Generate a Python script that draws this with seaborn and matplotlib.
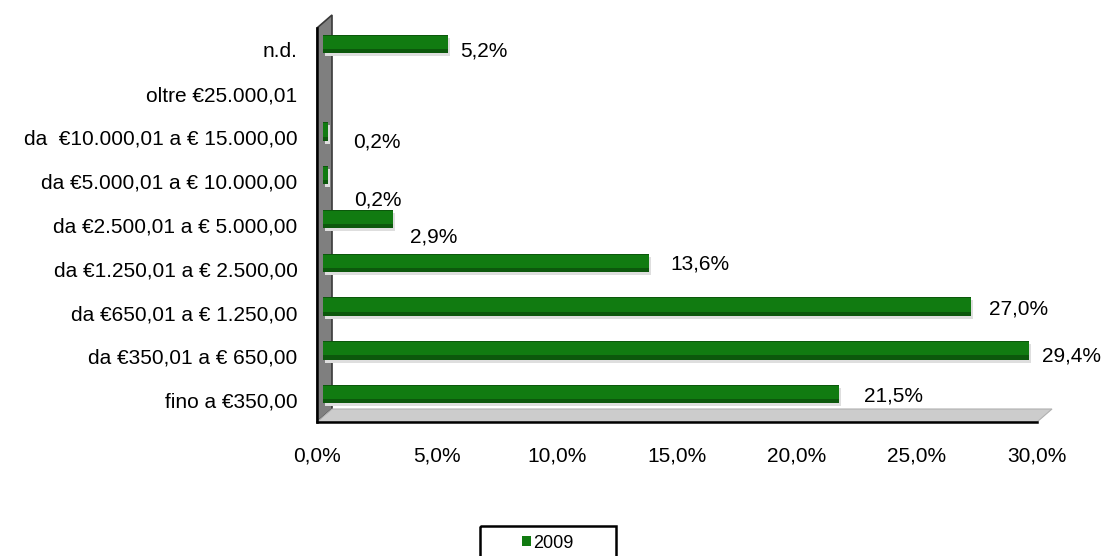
import matplotlib
matplotlib.use('Agg')
import matplotlib.pyplot as plt
import pandas as pd
import seaborn as sns
from matplotlib.patches import Polygon, Rectangle
from matplotlib.transforms import ScaledTranslation, IdentityTransform
from matplotlib.ticker import FixedLocator, FuncFormatter

# data (top to bottom as in the chart)
categories = [
    'n.d.',
    'oltre €25.000,01',
    'da  €10.000,01 a € 15.000,00',
    'da €5.000,01 a € 10.000,00',
    'da €2.500,01 a € 5.000,00',
    'da €1.250,01 a € 2.500,00',
    'da €650,01 a € 1.250,00',
    'da €350,01 a € 650,00',
    'fino a €350,00',
]
values = [5.2, 0.0, 0.2, 0.2, 2.9, 13.6, 27.0, 29.4, 21.5]
series = '2009'
x_ticks = [0, 5, 10, 15, 20, 25, 30]

# small pixel nudges for the value labels (Excel places them a bit irregularly)
label_nudge = [(-6, -1), (0, 0), (7, 3), (8, 17), (-1, 10), (3, -7), (0, -6), (-5, -2), (7, -6)]

df = pd.DataFrame({'fascia': categories, 'quota': values, 'anno': series})

sns.set_style('white')
plt.rcParams['font.family'] = ['Liberation Sans', 'DejaVu Sans']
plt.rcParams['text.color'] = 'black'
plt.rcParams['xtick.color'] = 'black'
plt.rcParams['ytick.color'] = 'black'

W, H = 1105, 556
fig = plt.figure(figsize=(W / 100, H / 100), dpi=100)
ax = fig.add_axes([317 / W, 1 - 422 / H, 720 / W, 394 / H])

px = 1 / 100  # one pixel in inches


def shifted(before, dx, dy):
    off = ScaledTranslation(dx * px, dy * px, fig.dpi_scale_trans)
    for p in ax.patches[before:]:
        p.set_transform(ax.transData + off)


# shadow, dark rim, bright core -> cylinder look
n = len(ax.patches)
sns.barplot(data=df, x='quota', y='fascia', hue='anno', palette=['#dedede'],
            width=0.42, orient='h', legend=False, ax=ax, zorder=3, linewidth=0)
shifted(n, 8, 3)
n = len(ax.patches)
sns.barplot(data=df, x='quota', y='fascia', hue='anno', palette=['#006400'],
            width=0.42, orient='h', legend=False, ax=ax, zorder=4, linewidth=0)
shifted(n, 6, 6)
n = len(ax.patches)
sns.barplot(data=df, x='quota', y='fascia', hue='anno', palette=['#008c00'],
            width=0.30, orient='h', legend=True, ax=ax, zorder=5, linewidth=0)
shifted(n, 6, 7.5)

ax.set_xlim(0, 30)
ax.set_ylim(8.5, -0.5)
ax.set_xlabel('')
ax.set_ylabel('')

# 3D wall and floor
fig.canvas.draw()
x0, y0 = ax.transAxes.transform((0, 0))
x1, y1 = ax.transAxes.transform((1, 1))
dx, dy = 15, 13
wall = Polygon([(x0, y0), (x0, y1), (x0 + dx, y1 + dy), (x0 + dx, y0 + dy)],
               closed=True, facecolor='#7f7f7f', edgecolor='#3a3a3a', lw=1.2,
               transform=IdentityTransform(), clip_on=False, zorder=1)
floor = Polygon([(x0, y0), (x1, y0), (x1 + dx, y0 + dy), (x0 + dx, y0 + dy)],
                closed=True, facecolor='#cccccc', edgecolor='#b0b0b0', lw=0.8,
                transform=IdentityTransform(), clip_on=False, zorder=1)
ax.add_patch(wall)
ax.add_patch(floor)

# axes lines and ticks
for s in ['top', 'right']:
    ax.spines[s].set_visible(False)
for s in ['left', 'bottom']:
    ax.spines[s].set_color('black')
    ax.spines[s].set_linewidth(1.8)
    ax.spines[s].set_zorder(6)

ax.set_xticks(x_ticks)
ax.xaxis.set_major_formatter(FuncFormatter(lambda v, p: f'{v:.1f}'.replace('.', ',') + '%'))
ax.tick_params(axis='x', direction='out', length=6, width=1.8, color='black',
               labelcolor='black', labelsize=15, pad=12)

ax.yaxis.set_major_locator(FixedLocator([i - 0.5 for i in range(len(categories) + 1)]))
ax.yaxis.set_minor_locator(FixedLocator(range(len(categories))))
ax.yaxis.set_major_formatter(FuncFormatter(lambda v, p: ''))
ax.yaxis.set_minor_formatter(FuncFormatter(lambda v, p: categories[int(round(v))]))
ax.tick_params(axis='y', which='major', direction='out', length=5, width=1.8, color='black')
ax.tick_params(axis='y', which='minor', length=0, labelsize=15, pad=14, labelcolor='black')
ax.grid(False)

# value labels
for i, v in enumerate(values):
    if v == 0:
        continue
    nx, ny = label_nudge[i]
    ax.annotate(f'{v:.1f}'.replace('.', ',') + '%', xy=(v, i),
                xytext=((24 + nx) * 0.72, (-ny - 2) * 0.72), textcoords='offset points',
                ha='left', va='center', fontsize=15, color='black', zorder=7)

# legend
leg = ax.legend(loc='center', bbox_to_anchor=((548) / W, 1 - 543 / H),
                bbox_transform=fig.transFigure, frameon=False, fontsize=13,
                handlelength=0.45, handleheight=0.45, handletextpad=0.15,
                borderpad=0, borderaxespad=0)
for t in leg.get_texts():
    t.set_color('black')
fig.add_artist(Rectangle((480 / W, 1 - 526 / H), 136 / W, -60 / H,
                         transform=fig.transFigure, facecolor='none',
                         edgecolor='black', lw=1.8))

fig.savefig('out.png', dpi=100)
